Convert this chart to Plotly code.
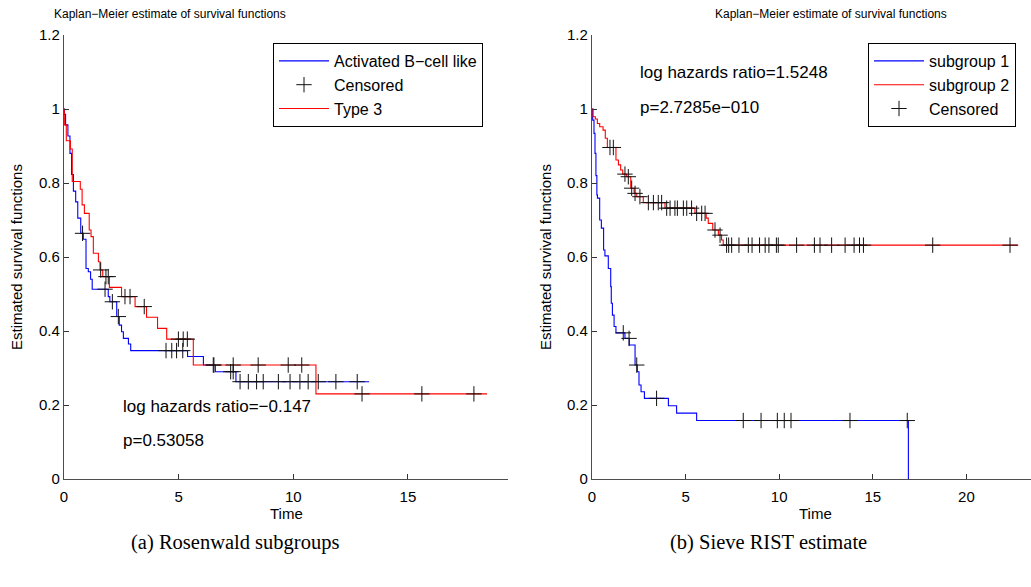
import numpy as np
import plotly.graph_objects as go

# ---------------- Panel (a): Rosenwald subgroups ----------------
abc_time = [0, 0.015, 0.07, 0.17, 0.26, 0.33, 0.41, 0.51, 0.60, 0.73, 0.84, 0.96, 1.06, 1.16,
            1.23, 1.93, 2.00, 2.30, 2.41, 2.51, 2.59, 2.81, 2.91, 5.39, 6.08, 6.60, 7.50, 13.31]
abc_surv = [1.0, 0.986, 0.957, 0.927, 0.88, 0.823, 0.778, 0.749, 0.705, 0.664, 0.648, 0.569, 0.560,
            0.540, 0.513, 0.493, 0.479, 0.439, 0.416, 0.398, 0.380, 0.365, 0.347, 0.331, 0.308,
            0.290, 0.263, 0.263]
abc_cens = [0.81, 1.79, 2.11, 2.37, 4.45, 4.70, 4.91, 5.18, 6.54, 7.27, 7.38, 7.68, 8.04, 8.40,
            8.69, 9.35, 9.86, 10.29, 10.65, 11.09, 11.86, 12.79]

t3_time = [0, 0.015, 0.10, 0.28, 0.36, 0.71, 0.79, 0.89, 1.10, 1.18, 1.28, 1.50, 1.57, 1.69,
           1.98, 2.51, 3.10, 3.60, 4.08, 4.48, 5.64, 10.99, 18.45]
t3_surv = [1.0, 0.957, 0.914, 0.892, 0.804, 0.783, 0.741, 0.718, 0.673, 0.655, 0.610, 0.587,
           0.565, 0.547, 0.518, 0.493, 0.466, 0.437, 0.407, 0.378, 0.308, 0.230, 0.230]
t3_cens = [1.60, 1.83, 1.93, 2.66, 2.88, 3.50, 4.99, 5.20, 5.38, 6.51, 7.38, 8.47, 9.78, 10.37,
           13.00, 15.61, 17.88]

# ---------------- Panel (b): Sieve RIST estimate ----------------
sg1_time = [0, 0.036, 0.107, 0.16, 0.21, 0.26, 0.29, 0.41, 0.50, 0.62, 0.69, 0.87, 1.00, 1.03,
            1.09, 1.18, 1.28, 1.76, 1.99, 2.30, 2.42, 2.51, 2.62, 2.80, 4.08, 4.52, 5.59, 16.90]
sg1_surv = [1.0, 0.970, 0.934, 0.88, 0.82, 0.768, 0.759, 0.700, 0.678, 0.619, 0.603, 0.569, 0.52,
            0.475, 0.443, 0.412, 0.395, 0.380, 0.362, 0.308, 0.290, 0.254, 0.236, 0.218, 0.198,
            0.178, 0.158, 0.0]
sg1_cens = [1.67, 1.98, 2.39, 3.45, 8.08, 9.03, 9.90, 10.27, 10.63, 13.78, 16.84]

sg2_time = [0, 0.053, 0.178, 0.285, 0.41, 0.59, 0.71, 0.82, 1.28, 1.41, 1.53, 1.64, 1.85, 2.07,
            2.25, 2.39, 2.74, 3.90, 5.50, 6.10, 6.21, 6.45, 6.75, 6.92, 7.01, 22.77]
sg2_surv = [1.0, 0.979, 0.973, 0.961, 0.952, 0.943, 0.921, 0.896, 0.862, 0.849, 0.835, 0.824,
            0.817, 0.786, 0.772, 0.763, 0.747, 0.732, 0.718, 0.705, 0.691, 0.673, 0.659, 0.646,
            0.632, 0.632]
sg2_cens = [0.96, 1.14, 1.76, 1.94, 2.12, 2.30, 2.56, 3.01, 3.28, 3.54, 3.72, 3.99, 4.17, 4.43,
            4.56, 4.88, 5.06, 5.32, 5.59, 5.86, 6.04, 6.57, 6.84, 7.19, 7.30, 7.46, 7.85, 8.35,
            8.55, 8.95, 9.25, 9.45, 9.85, 9.95, 10.93, 11.88, 12.18, 12.80, 13.52, 14.00, 14.29,
            14.50, 18.20, 22.33]

y_ticks = [0, 0.2, 0.4, 0.6, 0.8, 1.0, 1.2]
y_ticktext = ["0", "0.2", "0.4", "0.6", "0.8", "1", "1.2"]
x_ticks_a = [0, 5, 10, 15]
x_ticks_b = [0, 5, 10, 15, 20]

title_text = "Kaplan\u2212Meier estimate of survival functions"
names_a = ["Activated B\u2212cell like", "Censored", "Type 3"]
names_b = ["subgroup 1", "subgroup 2", "Censored"]
stats_a = ["log hazards ratio=\u22120.147", "p=0.53058"]
stats_b = ["log hazards ratio=1.5248", "p=2.7285e\u2212010"]
captions = ["(a) Rosenwald subgroups", "(b) Sieve RIST estimate"]


def step_at(times, surv, c):
    t = np.asarray(times)
    s = np.asarray(surv)
    idx = np.searchsorted(t, np.asarray(c), side="right") - 1
    return s[np.clip(idx, 0, len(s) - 1)]


FONT = "Liberation Sans, Arial, Helvetica, sans-serif"
BLUE = "#0000ff"
RED = "#ff0000"
LW = 1.1
CROSS = dict(symbol="cross-thin", size=11, line=dict(color="#111111", width=1))

fig = go.Figure()

# Panel (a)
fig.add_trace(go.Scatter(x=abc_time, y=abc_surv, mode="lines", line=dict(color=BLUE, width=LW, shape="hv"),
                         name=names_a[0], legend="legend", legendrank=1, xaxis="x", yaxis="y"))
fig.add_trace(go.Scatter(x=t3_time, y=t3_surv, mode="lines", line=dict(color=RED, width=LW, shape="hv"),
                         name=names_a[2], legend="legend", legendrank=3, xaxis="x", yaxis="y"))
cens_a_x = list(abc_cens) + list(t3_cens)
cens_a_y = list(step_at(abc_time, abc_surv, abc_cens)) + list(step_at(t3_time, t3_surv, t3_cens))
fig.add_trace(go.Scatter(x=cens_a_x, y=cens_a_y, mode="markers", marker=CROSS,
                         name=names_a[1], legend="legend", legendrank=2, xaxis="x", yaxis="y"))

# Panel (b)
fig.add_trace(go.Scatter(x=sg1_time, y=sg1_surv, mode="lines", line=dict(color=BLUE, width=LW, shape="hv"),
                         name=names_b[0], legend="legend2", legendrank=1, xaxis="x2", yaxis="y2"))
fig.add_trace(go.Scatter(x=sg2_time, y=sg2_surv, mode="lines", line=dict(color=RED, width=LW, shape="hv"),
                         name=names_b[1], legend="legend2", legendrank=2, xaxis="x2", yaxis="y2"))
cens_b_x = list(sg1_cens) + list(sg2_cens)
cens_b_y = list(step_at(sg1_time, sg1_surv, sg1_cens)) + list(step_at(sg2_time, sg2_surv, sg2_cens))
fig.add_trace(go.Scatter(x=cens_b_x, y=cens_b_y, mode="markers", marker=CROSS,
                         name=names_b[2], legend="legend2", legendrank=3, xaxis="x2", yaxis="y2"))

W, H = 1031, 587


def px_x(p):
    return p / W


def px_y(p):
    return 1 - p / H


axis_common = dict(showgrid=False, zeroline=False, showline=True, linecolor="#4d4d4d", linewidth=1.3,
                   ticks="inside", ticklen=5, tickcolor="#333333", tickwidth=1, automargin=False,
                   tickfont=dict(family=FONT, size=15, color="black"), mirror=False, fixedrange=True)

legend_common = dict(xanchor="left", yanchor="top", bordercolor="black", borderwidth=1, bgcolor="white",
                     font=dict(family=FONT, size=16, color="black"), itemwidth=50, tracegroupgap=0)

fig.update_layout(
    template="none",
    width=W, height=H,
    margin=dict(l=0, r=0, t=0, b=0, pad=0, autoexpand=False),
    paper_bgcolor="white", plot_bgcolor="white",
    xaxis=dict(domain=[px_x(64), px_x(508.3)], range=[0, 19.38], tickvals=x_ticks_a,
               anchor="y", ticklabelstandoff=4, **axis_common),
    yaxis=dict(domain=[px_y(479), px_y(35)], range=[0, 1.2], tickvals=y_ticks, ticktext=y_ticktext,
               anchor="x", **axis_common),
    xaxis2=dict(domain=[px_x(592), 1.0], range=[0, 23.45], tickvals=x_ticks_b,
                anchor="y2", ticklabelstandoff=4, **axis_common),
    yaxis2=dict(domain=[px_y(479), px_y(35)], range=[0, 1.2], tickvals=y_ticks, ticktext=y_ticktext,
                anchor="x2", **axis_common),
    legend=dict(x=px_x(273), y=px_y(43), **legend_common),
    legend2=dict(x=px_x(868), y=px_y(43), **legend_common),
    showlegend=True,
)

ann = []
for xp in (170, 831):
    ann.append(dict(x=px_x(xp), y=px_y(14), xref="paper", yref="paper", text=title_text, showarrow=False,
                    font=dict(family=FONT, size=12, color="black"), xanchor="center", yanchor="middle"))
for xp in (16, 545):
    ann.append(dict(x=px_x(xp), y=px_y(257), xref="paper", yref="paper", text="Estimated survival functions",
                    showarrow=False, textangle=-90, font=dict(family=FONT, size=15, color="black"),
                    xanchor="center", yanchor="middle"))
for xp in (286, 815):
    ann.append(dict(x=px_x(xp), y=px_y(513), xref="paper", yref="paper", text="Time", showarrow=False,
                    font=dict(family=FONT, size=15, color="black"), xanchor="center", yanchor="middle"))
STAT = dict(family=FONT, size=17, color="black")
ann.append(dict(x=2.49, y=0.197, xref="x", yref="y", text=stats_a[0], showarrow=False,
                font=STAT, xanchor="left", yanchor="middle"))
ann.append(dict(x=2.49, y=0.105, xref="x", yref="y", text=stats_a[1], showarrow=False,
                font=STAT, xanchor="left", yanchor="middle"))
ann.append(dict(x=2.46, y=1.10, xref="x2", yref="y2", text=stats_b[0], showarrow=False,
                font=STAT, xanchor="left", yanchor="middle"))
ann.append(dict(x=2.46, y=1.003, xref="x2", yref="y2", text=stats_b[1], showarrow=False,
                font=STAT, xanchor="left", yanchor="middle"))
SERIF = "Liberation Serif, DejaVu Serif, serif"
for xp, txt in ((235, captions[0]), (768, captions[1])):
    ann.append(dict(x=px_x(xp), y=px_y(542), xref="paper", yref="paper", text=txt, showarrow=False,
                    font=dict(family=SERIF, size=20.5, color="black"), xanchor="center", yanchor="middle"))

fig.update_layout(annotations=ann)

fig.write_html("out.html", config={"displayModeBar": False},
               post_script="document.body.style.margin='0';document.body.style.overflow='hidden';")
